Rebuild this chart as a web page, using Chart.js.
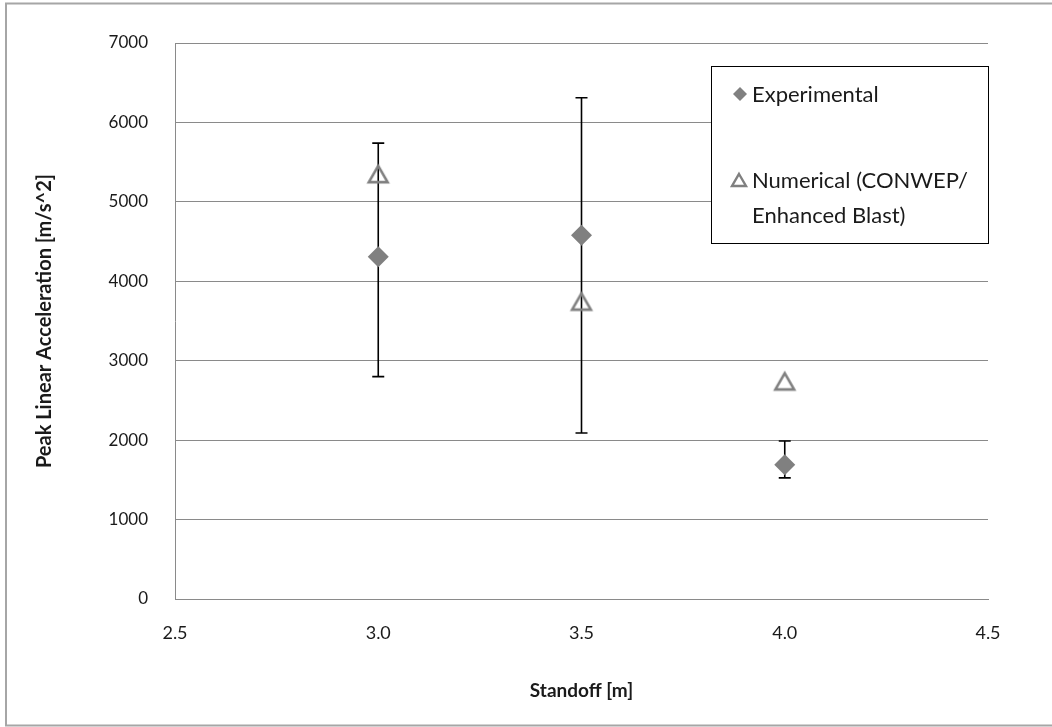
<!DOCTYPE html>
<html><head><meta charset="utf-8">
<script src="https://cdn.jsdelivr.net/npm/chart.js@4.4.0/dist/chart.umd.min.js"></script>
<style>html,body{margin:0;padding:0;background:#fff;overflow:hidden}canvas{display:block}</style>
</head><body>
<canvas id="c" width="1052" height="727"></canvas>
<script>
// ---- data ----
const standoff = [3.0, 3.5, 4.0];
const experimental = [4310, 4580, 1690];
const expErrLow = [2800, 2090, 1525];
const expErrHigh = [5740, 6310, 1990];
const numerical = [5350, 3745, 2740];
const xTickValues = [2.5, 3.0, 3.5, 4.0, 4.5];
const yTickValues = [0, 1000, 2000, 3000, 4000, 5000, 6000, 7000];
const seriesNames = ['Experimental', 'Numerical (CONWEP/\nEnhanced Blast)'];
const xTitle = 'Standoff [m]';
const yTitle = 'Peak Linear Acceleration [m/s^2]';

const FONT = 'Lato, "Open Sans", sans-serif';
const GRAY = '#808080';
const GRID = '#8a8a8a';
const TXT = '#1a1a1a';

function triangleImage(size, lw) {
  const cv = document.createElement('canvas');
  cv.width = size; cv.height = size;
  const g = cv.getContext('2d');
  const w = size - 2*lw - 2, h = w * 0.866;
  const cx = size/2, cy = size/2;
  g.strokeStyle = GRAY; g.lineWidth = lw; g.lineJoin = 'miter';
  g.beginPath();
  g.moveTo(cx, cy - h/2);
  g.lineTo(cx + w/2, cy + h/2);
  g.lineTo(cx - w/2, cy + h/2);
  g.closePath();
  g.stroke();
  return cv;
}
const triImg = triangleImage(26, 2.6);

const errorBars = {
  id: 'errorBars',
  beforeDatasetsDraw(chart) {
    const {ctx, scales: {x, y}} = chart;
    ctx.save();
    ctx.strokeStyle = '#000'; ctx.lineWidth = 1.6;
    standoff.forEach((s, i) => {
      const px = x.getPixelForValue(s);
      const top = y.getPixelForValue(expErrHigh[i]);
      const bot = y.getPixelForValue(expErrLow[i]);
      ctx.beginPath();
      ctx.moveTo(px, top); ctx.lineTo(px, bot);
      ctx.moveTo(px - 6, top); ctx.lineTo(px + 6, top);
      ctx.moveTo(px - 6, bot); ctx.lineTo(px + 6, bot);
      ctx.stroke();
    });
    ctx.restore();
  }
};

const frameAndLegend = {
  id: 'frameAndLegend',
  afterDraw(chart) {
    const ctx = chart.ctx;
    ctx.save();
    // outer frame
    ctx.strokeStyle = '#a6a6a6'; ctx.lineWidth = 2;
    ctx.beginPath();
    ctx.moveTo(1060, 3.5); ctx.lineTo(6, 3.5); ctx.lineTo(6, 725.5); ctx.lineTo(1060, 725.5);
    ctx.stroke();
    // legend box
    const lx = 711.5, ly = 66.5, lw = 277, lh = 177;
    ctx.fillStyle = '#fff';
    ctx.fillRect(lx, ly, lw, lh);
    ctx.strokeStyle = '#000'; ctx.lineWidth = 1;
    ctx.strokeRect(lx, ly, lw, lh);
    // diamond marker
    ctx.fillStyle = GRAY;
    ctx.beginPath();
    ctx.moveTo(740, 87); ctx.lineTo(747, 94); ctx.lineTo(740, 101); ctx.lineTo(733, 94);
    ctx.closePath(); ctx.fill();
    // triangle marker
    ctx.strokeStyle = GRAY; ctx.lineWidth = 2.4;
    ctx.beginPath();
    ctx.moveTo(739, 174); ctx.lineTo(746, 186); ctx.lineTo(732, 186); ctx.closePath();
    ctx.stroke();
    ctx.fillStyle = TXT;
    ctx.font = '22px ' + FONT;
    ctx.textBaseline = 'middle'; ctx.textAlign = 'left';
    ctx.fillText(seriesNames[0], 752, 95);
    const lines = seriesNames[1].split('\n');
    ctx.fillText(lines[0], 752, 181);
    ctx.fillText(lines[1], 752, 216);
    ctx.restore();
  }
};

new Chart(document.getElementById('c'), {
  type: 'scatter',
  data: {
    datasets: [
      {
        label: seriesNames[0],
        data: standoff.map((s, i) => ({x: s, y: experimental[i]})),
        pointStyle: 'rectRot',
        pointRadius: 10.5,
        backgroundColor: GRAY,
        borderColor: GRAY,
        borderWidth: 0
      },
      {
        label: seriesNames[1],
        data: standoff.map((s, i) => ({x: s, y: numerical[i]})),
        pointStyle: triImg,
        pointRadius: 10,
        backgroundColor: 'rgba(0,0,0,0)',
        borderColor: GRAY
      }
    ]
  },
  options: {
    responsive: false,
    animation: false,
    events: [],
    layout: {padding: {top: 43, right: 64, bottom: 0, left: 0}},
    plugins: {legend: {display: false}, tooltip: {enabled: false}},
    scales: {
      x: {
        type: 'linear', min: 2.5, max: 4.5,
        afterBuildTicks: s => { s.ticks = xTickValues.map(v => ({value: v})); },
        afterFit: s => { s.height = 128; },
        grid: {display: false, drawTicks: false},
        border: {display: true, color: GRID, width: 1},
        ticks: {padding: 23, color: TXT, font: {family: FONT, size: 18}, callback: v => Number(v).toFixed(1)},
        title: {display: true, text: xTitle, color: TXT, font: {family: FONT, size: 19, weight: 'bold'}, padding: {top: 0, bottom: 25}}
      },
      y: {
        type: 'linear', min: 0, max: 7000,
        afterBuildTicks: s => { s.ticks = yTickValues.map(v => ({value: v})); },
        afterFit: s => { s.width = 175; },
        grid: {color: GRID, lineWidth: 1, drawTicks: false},
        border: {display: true, color: GRID, width: 1},
        ticks: {padding: 27, color: TXT, font: {family: FONT, size: 17}, callback: v => String(v)},
        title: {display: true, text: yTitle, color: TXT, font: {family: FONT, size: 20, weight: 'bold'}, padding: {top: 33, bottom: 0}}
      }
    }
  },
  plugins: [errorBars, frameAndLegend]
});
</script>
</body></html>
